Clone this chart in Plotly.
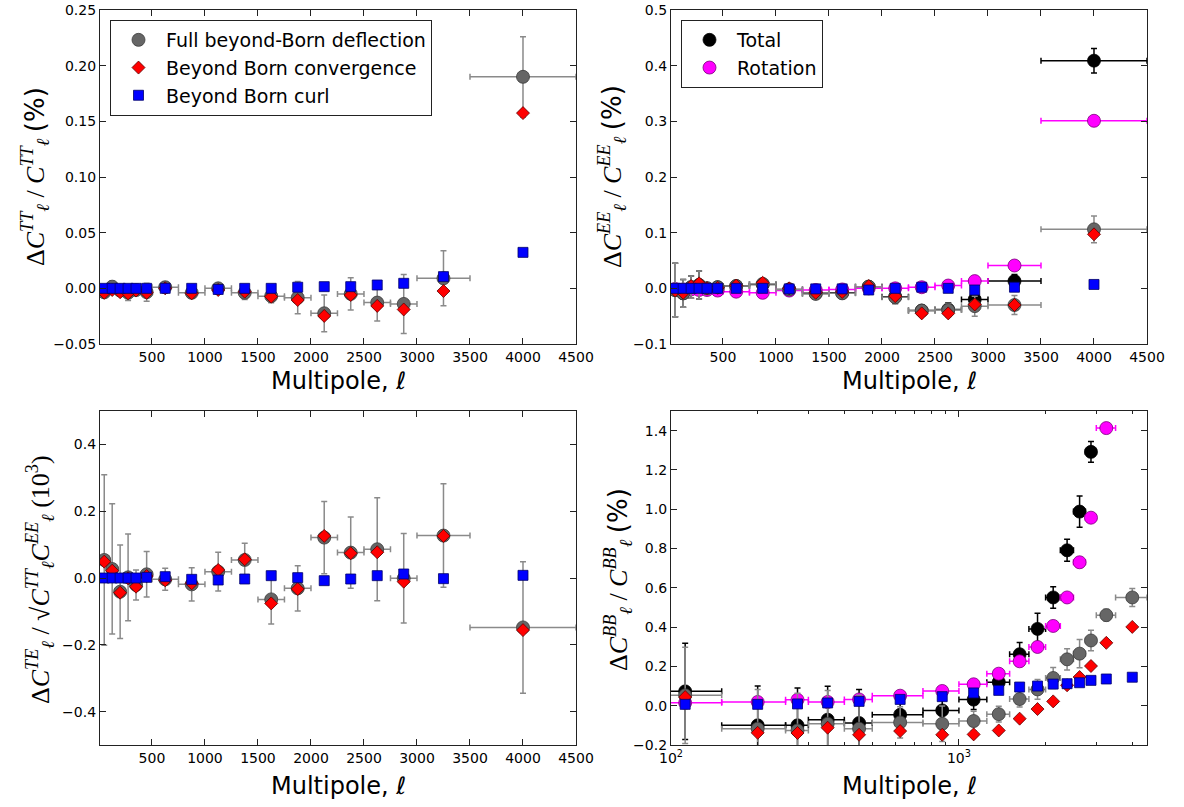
import plotly.graph_objects as go

# ---------------- data ----------------
ell = [50, 125, 200, 275, 350, 450, 625, 875, 1125, 1375, 1625, 1875, 2125, 2375, 2625, 2875, 3250, 4000]
ell_lo = [2, 100, 150, 250, 300, 400, 500, 750, 1000, 1250, 1500, 1750, 2000, 2250, 2500, 2750, 3000, 3500]
ell_hi = [100, 150, 250, 300, 400, 500, 750, 1000, 1250, 1500, 1750, 2000, 2250, 2500, 2750, 3000, 3500, 4500]

ell_bb = [112, 200, 275, 350, 450, 625, 875, 1125, 1375, 1625, 1875, 2125, 2375, 2625, 2875, 3250, 4000]
ell_bb_lo = [75, 150, 250, 300, 400, 500, 750, 1000, 1250, 1500, 1750, 2000, 2250, 2500, 2750, 3000, 3500]
ell_bb_hi = [150, 250, 300, 400, 500, 750, 1000, 1250, 1500, 1750, 2000, 2250, 2500, 2750, 3000, 3500, 4500]

# TT (%)
tt_full = [-0.0036, 0.0015, -0.002, -0.004, -0.0015, -0.0035, 0.001, -0.004, 0.0, -0.004, -0.007, -0.0084,
           -0.0224, -0.005, -0.0128, -0.014, 0.009, 0.190]
tt_full_err = [0.004, 0.005, 0.005, 0.007, 0.005, 0.008, 0.005, 0.005, 0.003, 0.006, 0.006, 0.0145,
               0.0165, 0.0145, 0.0165, 0.0265, 0.0247, 0.036]
tt_conv = [-0.004, -0.0015, -0.0035, -0.0045, -0.002, -0.004, 0.0, -0.0045, -0.0015, -0.003, -0.0075, -0.0105,
           -0.0248, -0.006, -0.0158, -0.019, -0.0024, 0.1574]
tt_curl = [0.0, 0.0, 0.0, 0.0, 0.0, 0.0, 0.0, 0.0, -0.001, 0.0, 0.0, 0.001, 0.0015, 0.0015, 0.003, 0.0045,
           0.0105, 0.0323]

# EE (%)
ee_full = [-0.003, -0.009, 0.002, 0.006, 0.0, 0.002, 0.004, 0.008, -0.002, -0.010, -0.009, 0.003, -0.016,
           -0.040, -0.039, -0.032, -0.030, 0.106]
ee_full_err = [0.048, 0.025, 0.02, 0.025, 0.01, 0.008, 0.008, 0.008, 0.006, 0.006, 0.006, 0.008, 0.012,
               0.008, 0.012, 0.018, 0.017, 0.024]
ee_conv = [-0.004, -0.008, 0.004, 0.009, 0.0, 0.001, 0.005, 0.010, 0.0, -0.008, -0.0065, 0.004, -0.014,
           -0.045, -0.045, -0.029, -0.030, 0.097]
ee_curl = [0.0, 0.0, 0.0, 0.0, 0.0, 0.0, 0.0, 0.0, -0.001, -0.001, -0.001, -0.003, 0.0, 0.002, 0.0, -0.003,
           0.002, 0.007]
ee_total = [-0.003, -0.009, 0.002, 0.006, 0.0, 0.002, 0.004, 0.007, -0.002, -0.009, -0.008, 0.003, -0.015,
            -0.040, -0.038, -0.020, 0.013, 0.409]
ee_total_err = [0.048, 0.025, 0.02, 0.025, 0.01, 0.008, 0.008, 0.008, 0.006, 0.006, 0.006, 0.008, 0.012,
                0.008, 0.012, 0.012, 0.012, 0.022]
ee_rot = [-0.001, -0.002, -0.002, -0.003, -0.003, -0.004, -0.006, -0.008, -0.004, -0.003, -0.002, 0.0, 0.0,
          0.002, 0.005, 0.013, 0.041, 0.301]
ee_rot_err = [0.003, 0.003, 0.003, 0.003, 0.002, 0.002, 0.002, 0.002, 0.002, 0.002, 0.002, 0.002, 0.002,
              0.002, 0.003, 0.003, 0.004, 0.004]

# TE (10^3)
te_full = [0.054, 0.027, -0.041, 0.002, -0.021, 0.011, -0.004, -0.019, 0.019, 0.054, -0.064, -0.031, 0.121,
           0.076, 0.086, -0.001, 0.127, -0.148]
te_full_err = [0.255, 0.195, 0.14, 0.13, 0.045, 0.068, 0.033, 0.05, 0.058, 0.05, 0.074, 0.068, 0.108, 0.107,
               0.154, 0.134, 0.155, 0.197]
te_conv = [0.049, 0.022, -0.044, -0.001, -0.026, 0.006, -0.007, -0.016, 0.024, 0.056, -0.076, -0.033, 0.126,
           0.074, 0.077, -0.011, 0.126, -0.156]
te_curl = [0.0, 0.0, 0.0, 0.0, 0.0, 0.002, 0.004, -0.004, -0.006, -0.003, 0.007, 0.001, -0.008, -0.003, 0.007,
           0.012, -0.002, 0.008]

# BB (%)
bb_full = [0.053, -0.117, -0.126, -0.092, -0.117, -0.085, -0.092, -0.078, -0.043, 0.034, 0.083, 0.141, 0.236,
           0.265, 0.332, 0.461, 0.551]
bb_full_err = [0.245, 0.2, 0.19, 0.17, 0.17, 0.08, 0.09, 0.05, 0.04, 0.04, 0.05, 0.053, 0.054, 0.072, 0.052,
               0.03, 0.046]
bb_conv = [0.044, -0.138, -0.139, -0.112, -0.148, -0.129, -0.148, -0.146, -0.126, -0.066, -0.017, 0.022, 0.104,
           0.146, 0.202, 0.32, 0.401]
bb_curl = [0.007, 0.007, 0.009, 0.014, 0.022, 0.032, 0.046, 0.065, 0.078, 0.095, 0.1, 0.11, 0.112, 0.117,
           0.129, 0.136, 0.145]
bb_total = [0.073, -0.10, -0.10, -0.071, -0.088, -0.046, -0.024, 0.031, 0.12, 0.262, 0.391, 0.551, 0.791,
            0.988, 1.292, None, None]
bb_total_err = [0.245, 0.2, 0.19, 0.17, 0.17, 0.08, 0.07, 0.05, 0.04, 0.06, 0.08, 0.055, 0.056, 0.08, 0.053,
                None, None]
bb_rot = [0.015, 0.019, 0.03, 0.019, 0.032, 0.051, 0.075, 0.109, 0.163, 0.226, 0.299, 0.406, 0.551, 0.73,
          0.957, 1.413, None]
bb_rot_err = [0.01, 0.01, 0.01, 0.01, 0.01, 0.01, 0.01, 0.01, 0.01, 0.01, 0.01, 0.01, 0.01, 0.01, 0.01,
              0.01, None]

# ---------------- styling ----------------
W, H = 1184, 807
GRAY, GRAY_ERR = "#666666", "#8a8a8a"
RED, BLUE, BLACK, MAG = "#ff0000", "#0000ff", "#000000", "#ff00ff"
FONT = "DejaVu Sans"
MATH = "Liberation Serif"

fig = go.Figure()


def xerrs(x, lo, hi):
    return [h - c for c, h in zip(x, hi)], [c - l for c, l in zip(x, lo)]


def add(xa, ya, x, y, symbol, size, color, edge, name=None, legend=None,
        yerr=None, lo=None, hi=None, errcolor=None):
    kw = {}
    if yerr is not None:
        kw["error_y"] = dict(type="data", array=yerr, color=errcolor, thickness=1.5, width=3)
    if lo is not None:
        p, m = xerrs(x, lo, hi)
        kw["error_x"] = dict(type="data", array=p, arrayminus=m, symmetric=False,
                             color=errcolor, thickness=1.5, width=3)
    fig.add_trace(go.Scatter(
        x=x, y=y, mode="markers", xaxis=xa, yaxis=ya,
        marker=dict(symbol=symbol, size=size, color=color, line=dict(color=edge, width=0.8)),
        name=name, showlegend=name is not None, legend=legend or "legend", **kw))


# TT panel
add("x", "y", ell, tt_full, "circle", 13, GRAY, "#3a3a3a", "Full beyond-Born deflection", "legend",
    tt_full_err, ell_lo, ell_hi, GRAY_ERR)
add("x", "y", ell, tt_conv, "diamond", 10, RED, "#5a0000", "Beyond Born convergence", "legend")
add("x", "y", ell, tt_curl, "square", 10, BLUE, "#00006a", "Beyond Born curl", "legend")

# EE panel
add("x2", "y2", ell, ee_total, "circle", 13, BLACK, "#000000", "Total", "legend2",
    ee_total_err, ell_lo, ell_hi, BLACK)
add("x2", "y2", ell, ee_rot, "circle", 13, MAG, "#7a007a", "Rotation", "legend2",
    ee_rot_err, ell_lo, ell_hi, MAG)
add("x2", "y2", ell, ee_full, "circle", 13, GRAY, "#3a3a3a", None, None,
    ee_full_err, ell_lo, ell_hi, GRAY_ERR)
add("x2", "y2", ell, ee_conv, "diamond", 10, RED, "#5a0000")
add("x2", "y2", ell, ee_curl, "square", 10, BLUE, "#00006a")

# TE panel
add("x3", "y3", ell, te_full, "circle", 13, GRAY, "#3a3a3a", None, None,
    te_full_err, ell_lo, ell_hi, GRAY_ERR)
add("x3", "y3", ell, te_conv, "diamond", 10, RED, "#5a0000")
add("x3", "y3", ell, te_curl, "square", 10, BLUE, "#00006a")

# BB panel
add("x4", "y4", ell_bb, bb_total, "circle", 13, BLACK, "#000000", None, None,
    bb_total_err, ell_bb_lo, ell_bb_hi, BLACK)
add("x4", "y4", ell_bb, bb_rot, "circle", 13, MAG, "#7a007a", None, None,
    bb_rot_err, ell_bb_lo, ell_bb_hi, MAG)
add("x4", "y4", ell_bb, bb_full, "circle", 13, GRAY, "#3a3a3a", None, None,
    bb_full_err, ell_bb_lo, ell_bb_hi, GRAY_ERR)
add("x4", "y4", ell_bb, bb_conv, "diamond", 10, RED, "#5a0000")
add("x4", "y4", ell_bb, bb_curl, "square", 10, BLUE, "#00006a")

# ---------------- layout ----------------
XL = [100 / W, 576 / W]
XR = [671 / W, 1147 / W]
YT = [1 - 344 / H, 1 - 10 / H]
YB = [1 - 745 / H, 1 - 411 / H]

base = dict(showline=True, linecolor="#222222", linewidth=1.2, mirror="allticks",
            ticks="inside", ticklen=6, tickwidth=1, tickcolor="#222222",
            showgrid=False, zeroline=False, automargin=False,
            tickfont=dict(family=FONT, size=14, color="black"))

lin_x = dict(base, range=[10, 4500], tickvals=[500, 1000, 1500, 2000, 2500, 3000, 3500, 4000, 4500])

fig.update_layout(
    width=W, height=H, margin=dict(l=0, r=0, t=0, b=0),
    paper_bgcolor="white", plot_bgcolor="white",
    xaxis=dict(lin_x, domain=XL, anchor="y"),
    yaxis=dict(base, domain=YT, anchor="x", range=[-0.05, 0.25], dtick=0.05, tick0=0, tickformat=".2f"),
    xaxis2=dict(lin_x, domain=XR, anchor="y2"),
    yaxis2=dict(base, domain=YT, anchor="x2", range=[-0.1, 0.5], dtick=0.1, tick0=0, tickformat=".1f"),
    xaxis3=dict(lin_x, domain=XL, anchor="y3"),
    yaxis3=dict(base, domain=YB, anchor="x3", range=[-0.5, 0.5],
                tickvals=[-0.4, -0.2, 0.0, 0.2, 0.4], tickformat=".1f"),
    xaxis4=dict(base, domain=XR, anchor="y4", type="log", range=[2, 3.6532],
                tickvals=[100, 1000], ticktext=["10<sup>2</sup>", "10<sup>3</sup>"],
                minor=dict(ticks="inside", ticklen=3, tickcolor="#222222",
                           tickvals=[200, 300, 400, 500, 600, 700, 800, 900, 2000, 3000, 4000])),
    yaxis4=dict(base, domain=YB, anchor="x4", range=[-0.2, 1.5], dtick=0.2, tick0=0, tickformat=".1f"),
    legend=dict(x=110 / W, y=1 - 20 / H, xanchor="left", yanchor="top",
                bgcolor="white", bordercolor="#222222", borderwidth=1,
                font=dict(family=FONT, size=19, color="black"), itemwidth=45),
    legend2=dict(x=681 / W, y=1 - 20 / H, xanchor="left", yanchor="top",
                 bgcolor="white", bordercolor="#222222", borderwidth=1,
                 font=dict(family=FONT, size=19, color="black"), itemwidth=45),
)


def C(sup):
    return f"<i>C</i><sup><i>{sup}</i></sup><sub><i>ℓ</i></sub>"


pct = f'<span style="font-family:{FONT}">(%)</span>'
ytitles = [
    (35, 177, f"Δ{C('TT')} / {C('TT')} {pct}"),
    (612, 177, f"Δ{C('EE')} / {C('EE')} {pct}"),
    (40, 580, f"Δ{C('TE')} / √{C('TT')}{C('EE')} (10<sup>3</sup>)"),
    (618, 580, f"Δ{C('BB')} / {C('BB')} {pct}"),
]
for x, y, t in ytitles:
    fig.add_annotation(x=x / W, y=1 - y / H, xref="paper", yref="paper", text=t, showarrow=False,
                       textangle=-90, xanchor="center", yanchor="middle",
                       font=dict(family=MATH, size=26, color="black"))

for x, y in [(338, 381), (909, 381), (338, 786), (909, 786)]:
    fig.add_annotation(x=x / W, y=1 - y / H, xref="paper", yref="paper",
                       text="Multipole, <i>ℓ</i>", showarrow=False,
                       xanchor="center", yanchor="middle",
                       font=dict(family=FONT, size=24, color="black"))

fig.write_html("out.html")
